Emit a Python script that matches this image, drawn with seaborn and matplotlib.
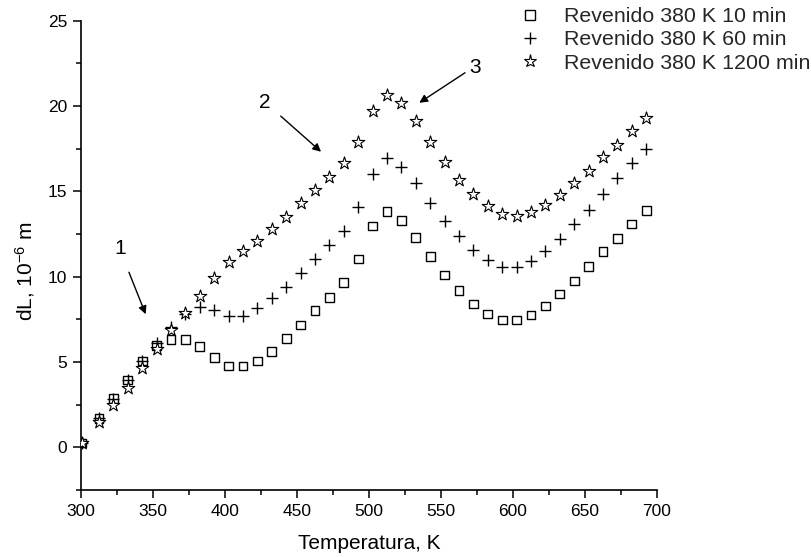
import matplotlib
matplotlib.use("Agg")
import matplotlib.pyplot as plt
import seaborn as sns
from matplotlib.ticker import MultipleLocator
from matplotlib.lines import Line2D

# ---- data ----
temps = [300.5, 312.5, 322.5, 332.5, 342.5, 352.5, 362.5, 372.5, 382.5, 392.5,
         402.5, 412.5, 422.5, 432.5, 442.5, 452.5, 462.5, 472.5, 482.5, 492.5,
         502.5, 512.5, 522.5, 532.5, 542.5, 552.5, 562.5, 572.5, 582.5, 592.5,
         602.5, 612.5, 622.5, 632.5, 642.5, 652.5, 662.5, 672.5, 682.5, 692.5]

dl_10min = [0.25, 1.70, 2.84, 3.95, 5.06, 5.96, 6.33, 6.33, 5.90, 5.26,
            4.77, 4.77, 5.06, 5.60, 6.38, 7.17, 8.00, 8.77, 9.67, 11.04,
            12.97, 13.80, 13.30, 12.28, 11.17, 10.10, 9.18, 8.40, 7.81, 7.46,
            7.46, 7.76, 8.28, 8.99, 9.75, 10.59, 11.47, 12.25, 13.09, 13.90]

dl_60min = [0.25, 1.70, 2.84, 3.95, 5.06, 6.10, 7.07, 7.80, 8.20, 8.05,
            7.70, 7.72, 8.17, 8.73, 9.41, 10.23, 11.02, 11.86, 12.68, 14.10,
            16.00, 16.93, 16.45, 15.47, 14.34, 13.26, 12.38, 11.56, 10.98, 10.59,
            10.59, 10.92, 11.50, 12.20, 13.07, 13.90, 14.84, 15.76, 16.64, 17.48]

dl_1200min = [0.25, 1.50, 2.50, 3.50, 4.63, 5.75, 6.88, 7.85, 8.87, 9.90,
              10.84, 11.50, 12.09, 12.80, 13.52, 14.30, 15.08, 15.86, 16.68, 17.90,
              19.70, 20.64, 20.20, 19.12, 17.90, 16.74, 15.66, 14.83, 14.16, 13.67,
              13.57, 13.77, 14.22, 14.79, 15.47, 16.19, 17.00, 17.71, 18.55, 19.28]

series_labels = ["Revenido 380 K 10 min", "Revenido 380 K 60 min",
                 "Revenido 380 K 1200 min"]

x_label = "Temperatura, K"
y_label = "dL, 10$^{-6}$ m"

# annotation labels and arrows (text pos, arrow start, arrow end) in data units
ann_text = ["1", "2", "3"]
ann_text_xy = [(327.1, 11.66), (427.8, 20.19), (573.6, 22.23)]
ann_from = [(333.3, 10.26), (438.7, 19.41), (566.7, 21.95)]
ann_to = [(344.9, 7.80), (466.7, 17.32), (534.9, 20.19)]

# ---- style ----
sns.set_theme(style="ticks")
plt.rcParams["font.family"] = ["Liberation Sans", "DejaVu Sans"]
plt.rcParams["mathtext.fontset"] = "custom"
plt.rcParams["mathtext.rm"] = "Liberation Sans"
plt.rcParams["mathtext.it"] = "Liberation Sans:italic"
plt.rcParams["mathtext.bf"] = "Liberation Sans:bold"

fig = plt.figure(figsize=(8.12, 5.57), dpi=100)
ax = fig.add_axes([81 / 812, 1 - 490 / 557, 576 / 812, 469.3 / 557])

sns.scatterplot(x=temps, y=dl_10min, marker="s", s=40, facecolor="none",
                edgecolor="black", linewidth=1.0, ax=ax, zorder=3)
sns.scatterplot(x=temps, y=dl_60min, marker="+", s=64, color="black",
                linewidth=1.0, ax=ax, zorder=3)
sns.scatterplot(x=temps, y=dl_1200min, marker="*", s=90, facecolor="white",
                edgecolor="black", linewidth=0.8, ax=ax, zorder=4)

ax.set_xlim(300, 700)
ax.set_ylim(-2.5, 25)
ax.xaxis.set_major_locator(MultipleLocator(50))
ax.xaxis.set_minor_locator(MultipleLocator(25))
ax.yaxis.set_major_locator(MultipleLocator(5))
ax.yaxis.set_minor_locator(MultipleLocator(2.5))
ax.set_yticks([0, 5, 10, 15, 20, 25])

ax.tick_params(which="major", direction="out", length=6, width=1.1,
               labelsize=12.5, pad=4, colors="black")
ax.tick_params(which="minor", direction="out", length=3.5, width=1.1,
               colors="black")
for side in ["top", "right"]:
    ax.spines[side].set_visible(False)
for side in ["left", "bottom"]:
    ax.spines[side].set_linewidth(1.2)
    ax.spines[side].set_color("black")
ax.grid(False)

ax.set_xlabel(x_label, fontsize=15, color="black")
ax.set_ylabel(y_label, fontsize=15, color="black")
ax.xaxis.set_label_coords(0.5, -0.093)
ax.yaxis.set_label_coords(-0.077, 0.466)

for t, txy, a0, a1 in zip(ann_text, ann_text_xy, ann_from, ann_to):
    ax.text(txy[0], txy[1], t, fontsize=15, ha="center", va="center",
            color="black", clip_on=False)
    ax.annotate("", xy=a1, xytext=a0,
                arrowprops=dict(arrowstyle="-|>", color="black", lw=1.0,
                                mutation_scale=12, shrinkA=0, shrinkB=0),
                annotation_clip=False)

handles = [
    Line2D([], [], linestyle="", marker="s", markersize=6.5,
           markerfacecolor="none", markeredgecolor="black", markeredgewidth=1.0),
    Line2D([], [], linestyle="", marker="+", markersize=8,
           color="black", markeredgewidth=1.0),
    Line2D([], [], linestyle="", marker="*", markersize=9.5,
           markerfacecolor="white", markeredgecolor="black", markeredgewidth=0.8),
]
fig.legend(handles, series_labels, loc="upper left",
           bbox_to_anchor=(519.6 / 812, 1 - 7 / 557),
           bbox_transform=fig.transFigure, frameon=False, fontsize=15.4,
           handlelength=1.0, handletextpad=1.07, labelspacing=0.2,
           borderpad=0, borderaxespad=0)

fig.savefig("out.png", dpi=100)
